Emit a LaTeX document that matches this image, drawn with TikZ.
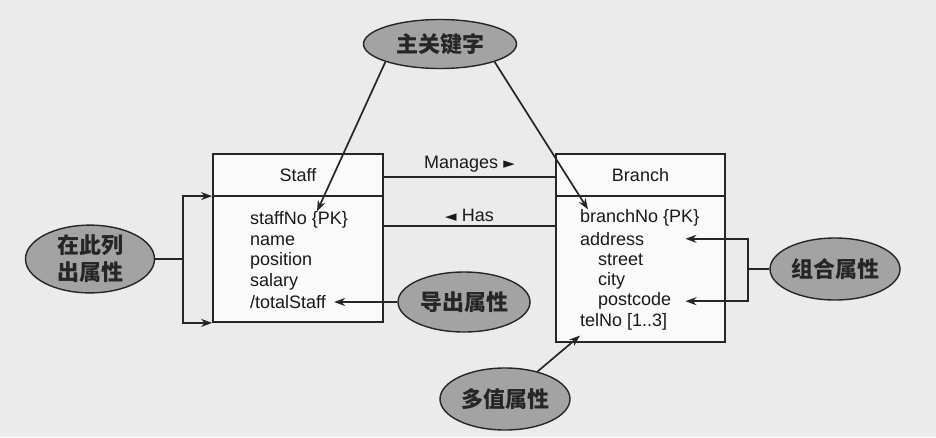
\documentclass[tikz,border=0pt]{standalone}
\usepackage{fontspec}
\setmainfont{Liberation Sans}
\newfontfamily\cjk{Noto Sans CJK SC}
\newfontfamily\symb{DejaVu Sans}
\usetikzlibrary{shapes.geometric,arrows.meta}

\begin{document}
\begin{tikzpicture}[x=1pt,y=-1pt,>={Stealth[length=11pt,width=8pt]},
	ent/.style={draw=black!85,line width=1.8pt,fill=black!2,inner sep=0pt},
	attr/.style={anchor=west,inner sep=0pt,font=\fontsize{18}{20}\selectfont,text=black!90},
	tag/.style={ellipse,draw=black!85,line width=1.4pt,fill=black!36,inner sep=0pt,align=center,font=\cjk\bfseries\fontsize{22}{27}\selectfont,text=black!85},
	link/.style={draw=black!85,line width=1.7pt}]
	\fill[black!8] (0,0) rectangle (936,437);
	\useasboundingbox (0,0) rectangle (936,437);

	\node[ent,minimum width=170pt,minimum height=168pt] (S) at (298,238) {};
	\node[ent,minimum width=169pt,minimum height=188pt] (B) at (640.5,248) {};
	\node[attr,anchor=center] (SH) at ([yshift=-21.5pt]S.north) {Staff};
	\node[attr,anchor=center] (BH) at ([yshift=-21.5pt]B.north) {Branch};
	\coordinate (Sd) at ([yshift=-43pt]S.north west);
	\coordinate (Bd) at ([yshift=-43pt]B.north west);
	\draw[link,line width=1.8pt] (Sd) -- (Sd -| S.east);
	\draw[link,line width=1.8pt] (Bd) -- (Bd -| B.east);

	\foreach \t [count=\n] in {staffNo \{PK\},name,position,salary,/totalStaff}
		\node[attr] (S\n) at (250,{220+20.5*(\n-1)}) {\t};
	\foreach \t/\x [count=\n] in {branchNo \{PK\}/580,address/580,street/598,city/598,postcode/598,{telNo [1..3]}/580}
		\node[attr] (B\n) at (\x,{218+20.8*(\n-1)}) {\t};

	\node[tag,minimum width=153pt,minimum height=49pt] (key) at (440,44) {主关键字};
	\node[tag,minimum width=129pt,minimum height=62pt] (list) at (90,259) {在此列\\出属性};
	\node[tag,minimum width=132pt,minimum height=60pt] (der) at (464,302) {导出属性};
	\node[tag,minimum width=130pt,minimum height=62pt] (comp) at (835,269) {组合属性};
	\node[tag,minimum width=130pt,minimum height=62pt] (multi) at (505,399) {多值属性};

	\coordinate (man) at ([yshift=-24pt]S.north east);
	\coordinate (has) at ([yshift=-73pt]S.north east);
	\draw[link] (man) -- node[attr,anchor=south,above=4pt]{Manages {\symb\fontsize{15}{15}\selectfont ►}} (man -| B.west);
	\draw[link] (has) -- node[attr,anchor=south,above=4pt]{{\symb\fontsize{15}{15}\selectfont ◄} Has} (has -| B.west);

	\draw[link,->] (key.south west) -- ([xshift=67pt]S1.north west);
	\draw[link,->] (key.south east) -- ([xshift=8pt]B1.north west);
	\draw[link,->] (list.east) -- ++(28,0) coordinate (lj) |- (Sd);
	\draw[link,->] (lj) |- (S.south west);
	\draw[link,->] (der.west) -- ([xshift=8pt]S5.east);
	\coordinate (ct) at ([xshift=14pt]B5.east);
	\draw[link,->] (comp.west) -- ++(-21,0) coordinate (cj) |- (ct);
	\draw[link,->] (cj) |- (ct |- B2.east);
	\draw[link,->] (multi) -- ([yshift=-5pt]B6.south west);
\end{tikzpicture}
\end{document}
